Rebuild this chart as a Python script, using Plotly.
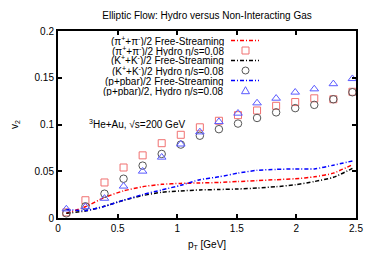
import plotly.graph_objects as go

# ---- data ----
pt = [0.07, 0.23, 0.39, 0.55, 0.71, 0.87, 1.03, 1.19, 1.35, 1.51, 1.67, 1.83, 1.99, 2.15, 2.31, 2.47]

pion_hydro = [0.006, 0.019, 0.038, 0.054, 0.067, 0.080, 0.089, 0.097, 0.104, 0.110, 0.115, 0.120, 0.124, 0.128, 0.127, 0.135]
kaon_hydro = [0.005, 0.0125, 0.026, 0.042, 0.056, 0.0685, 0.0785, 0.088, 0.095, 0.101, 0.107, 0.113, 0.1175, 0.121, 0.127, 0.1345]
proton_hydro = [0.0096, 0.012, 0.021, 0.034, 0.050, 0.065, 0.079, 0.092, 0.103, 0.112, 0.123, 0.128, 0.1345, 0.138, 0.1435, 0.149]

pion_fs = [0.005, 0.012, 0.022, 0.029, 0.0335, 0.036, 0.037, 0.0375, 0.038, 0.039, 0.040, 0.041, 0.042, 0.044, 0.048, 0.057]
kaon_fs = [0.005, 0.0075, 0.0125, 0.019, 0.024, 0.0275, 0.029, 0.030, 0.0305, 0.031, 0.032, 0.0335, 0.0355, 0.039, 0.0435, 0.053]
proton_fs = [0.009, 0.008, 0.0125, 0.019, 0.025, 0.030, 0.035, 0.041, 0.044, 0.048, 0.051, 0.052, 0.0525, 0.0525, 0.0565, 0.061]

legend_labels = [
    "(π<sup>+</sup>+π<sup>-</sup>)/2 Free-Streaming",
    "(π<sup>+</sup>+π<sup>-</sup>)/2 Hydro η/s=0.08",
    "(K<sup>+</sup>+K<sup>-</sup>)/2 Free-Streaming",
    "(K<sup>+</sup>+K<sup>-</sup>)/2 Hydro η/s=0.08",
    "(p+pbar)/2 Free-Streaming",
    "(p+pbar)/2, Hydro η/s=0.08",
]

x_ticks = [0, 0.5, 1, 1.5, 2, 2.5]
x_ticklabels = ["0", "0.5", "1", "1.5", "2", "2.5"]
y_ticks = [0, 0.05, 0.1, 0.15, 0.2]
y_ticklabels = ["0", "0.05", "0.1", "0.15", "0.2"]

# ---- styles ----
RED = "#ff0000"
BLACK = "#000000"
BLUE = "#0000ff"
SQ = "#f07070"
CI = "#555555"
TR = "#5a5aff"
DASH = "4px,2px,1px,2px"
FONT = "Liberation Sans, Arial, sans-serif"
FS = 10

W, H = 374, 262
PL, PR, PT, PB = 58, 356, 31, 218   # plot area in page pixels
ML, MR, MT, MB = PL, W - PR, PT, H - PB
pw, ph = PR - PL, PB - PT

def px(xp):
    return (xp - PL) / pw

def py(yp):
    return (PB - yp) / ph

fig = go.Figure()
fig.add_trace(go.Scatter(x=pt, y=pion_fs, mode="lines",
                         line=dict(color=RED, width=1.5, dash=DASH, shape="spline", smoothing=0.6)))
fig.add_trace(go.Scatter(x=pt, y=pion_hydro, mode="markers",
                         marker=dict(symbol="square-open", size=7, color=SQ, line=dict(width=1))))
fig.add_trace(go.Scatter(x=pt, y=kaon_fs, mode="lines",
                         line=dict(color=BLACK, width=1.5, dash=DASH, shape="spline", smoothing=0.6)))
fig.add_trace(go.Scatter(x=pt, y=kaon_hydro, mode="markers",
                         marker=dict(symbol="circle-open", size=7.5, color=CI, line=dict(width=1))))
fig.add_trace(go.Scatter(x=pt, y=proton_fs, mode="lines",
                         line=dict(color=BLUE, width=1.5, dash=DASH, shape="spline", smoothing=0.6)))
fig.add_trace(go.Scatter(x=pt, y=proton_hydro, mode="markers",
                         marker=dict(symbol="triangle-up-open", size=7.5, color=TR, line=dict(width=1))))

annotations = []
shapes = []
row_y = [40.5, 50.5, 60.5, 70.5, 80.5, 90.5]
styles = [("line", RED), ("square", SQ), ("line", BLACK), ("circle", CI), ("line", BLUE), ("triangle", TR)]
for lab, yy, (kind, col) in zip(legend_labels, row_y, styles):
    annotations.append(dict(text=lab, x=px(226), y=py(yy), xref="paper", yref="paper",
                            xanchor="right", yanchor="middle", showarrow=False, height=10,
                            font=dict(size=FS, color="black", family=FONT)))
    if kind == "line":
        shapes.append(dict(type="line", xref="paper", yref="paper",
                           x0=px(231), x1=px(259), y0=py(yy), y1=py(yy),
                           line=dict(color=col, width=1.5, dash=DASH)))
    elif kind == "square":
        shapes.append(dict(type="rect", xref="paper", yref="paper",
                           x0=px(242), x1=px(249), y0=py(yy - 3.5), y1=py(yy + 3.5),
                           line=dict(color=col, width=1)))
    elif kind == "circle":
        shapes.append(dict(type="circle", xref="paper", yref="paper",
                           x0=px(242), x1=px(249), y0=py(yy - 3.5), y1=py(yy + 3.5),
                           line=dict(color=col, width=1)))
    else:
        x0, x1, xc = px(241.5), px(249.5), px(245.5)
        yb, yt = py(yy + 3.2), py(yy - 3.8)
        shapes.append(dict(type="path", xref="paper", yref="paper",
                           path=f"M {x0} {yb} L {x1} {yb} L {xc} {yt} Z",
                           line=dict(color=col, width=1)))

annotations.append(dict(text="<sup>3</sup>He+Au, √s=200 GeV", x=0.24, y=0.1005, xref="x", yref="y",
                        xanchor="left", yanchor="middle", showarrow=False,
                        font=dict(size=FS, color="black", family=FONT)))

fig.update_layout(
    width=W, height=H,
    margin=dict(l=ML, r=MR, t=MT, b=MB, pad=0),
    paper_bgcolor="white", plot_bgcolor="white",
    showlegend=False,
    font=dict(family=FONT, size=FS, color="black"),
    title=dict(text="Elliptic Flow: Hydro versus Non-Interacting Gas", xref="paper", x=0.5, xanchor="center",
               yref="container", y=1 - 15.7 / H, yanchor="middle", font=dict(size=FS, family=FONT)),
    annotations=annotations,
    shapes=shapes,
)
fig.update_xaxes(range=[0, 2.5], tickvals=x_ticks, ticktext=x_ticklabels,
                 showgrid=False, zeroline=False, showline=True, linecolor="black", linewidth=2,
                 mirror="ticks", ticks="inside", ticklen=4, tickwidth=2, tickcolor="black",
                 title=dict(text="p<sub>T</sub> [GeV]", standoff=8, font=dict(size=FS)))
fig.update_yaxes(range=[0, 0.2], tickvals=y_ticks, ticktext=y_ticklabels,
                 showgrid=False, zeroline=False, showline=True, linecolor="black", linewidth=2,
                 mirror="ticks", ticks="inside", ticklen=4, tickwidth=2, tickcolor="black",
                 title=dict(text="v<sub>2</sub>", standoff=14, font=dict(size=FS)))

fig.write_html("out.html", config={"displayModeBar": False},
               post_script="document.body.style.margin='0';document.body.style.overflow='hidden';")
